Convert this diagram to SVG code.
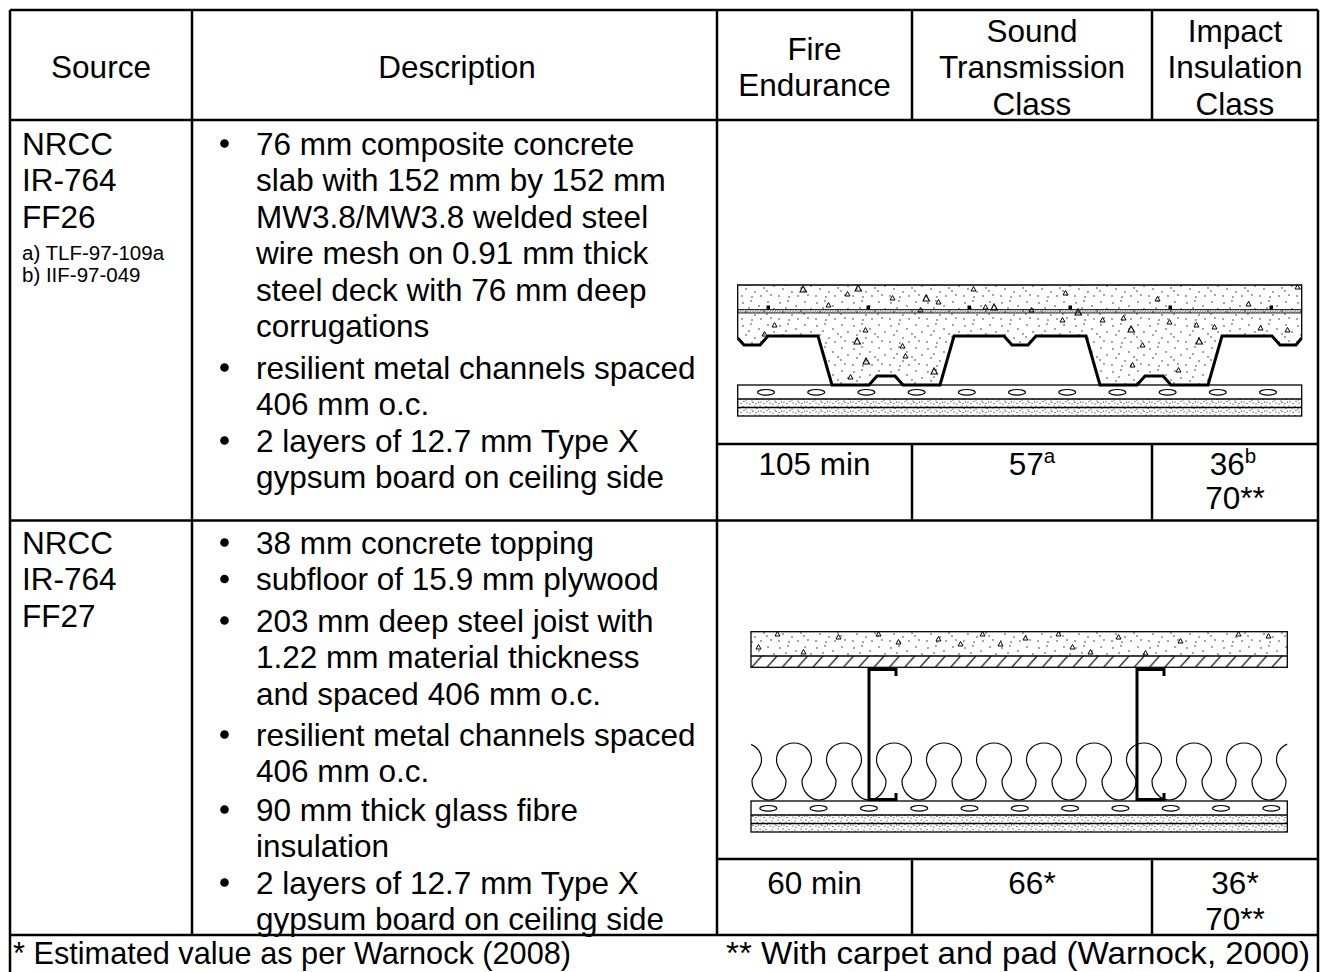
<svg xmlns="http://www.w3.org/2000/svg" xmlns:xlink="http://www.w3.org/1999/xlink" width="1322" height="972" viewBox="0 0 1322 972">
<style>
.t{font-family:"Liberation Sans",Arial,sans-serif;font-size:31.5px;fill:#000}
.s{font-size:20.5px}
.c{text-anchor:middle}
.grid{stroke:#000;stroke-width:2.5;fill:none}
.thin{stroke:#000;stroke-width:1.3;fill:none}
.deck{stroke:#000;stroke-width:3;fill:none;stroke-linejoin:miter}
.bul{fill:#000}
</style>
<defs>
<pattern id="stip" width="37" height="23" patternUnits="userSpaceOnUse">
<g fill="#000"><circle cx="3" cy="4" r="0.65"/><circle cx="11" cy="2" r="0.65"/><circle cx="19" cy="7" r="0.65"/><circle cx="28" cy="3" r="0.65"/><circle cx="34" cy="10" r="0.65"/><circle cx="6" cy="13" r="0.65"/><circle cx="15" cy="16" r="0.65"/><circle cx="24" cy="12" r="0.65"/><circle cx="31" cy="19" r="0.65"/><circle cx="2" cy="20" r="0.65"/><circle cx="12" cy="21" r="0.65"/><circle cx="21" cy="20" r="0.65"/><circle cx="9" cy="9" r="0.65"/><circle cx="27" cy="15" r="0.65"/></g>
</pattern>
<pattern id="gyp" width="23" height="9" patternUnits="userSpaceOnUse">
<g fill="#000"><circle cx="1" cy="1" r="0.55"/><circle cx="4" cy="3" r="0.55"/><circle cx="7" cy="1.5" r="0.55"/><circle cx="10" cy="4" r="0.55"/><circle cx="13" cy="2" r="0.55"/><circle cx="16" cy="5" r="0.55"/><circle cx="19" cy="1" r="0.55"/><circle cx="21" cy="3.5" r="0.55"/><circle cx="2" cy="6" r="0.55"/><circle cx="5" cy="7.5" r="0.55"/><circle cx="8" cy="5.5" r="0.55"/><circle cx="11" cy="7" r="0.55"/><circle cx="14" cy="8" r="0.55"/><circle cx="17" cy="6.5" r="0.55"/><circle cx="20" cy="7.5" r="0.55"/><circle cx="22.5" cy="6" r="0.55"/></g>
</pattern>
<pattern id="mesh" width="2.5" height="3.5" patternUnits="userSpaceOnUse">
<path d="M0,3.5 L2.5,0" stroke="#000" stroke-width="0.7"/>
</pattern>
<pattern id="hatch" x="751" y="656" width="15.3" height="11.3" patternUnits="userSpaceOnUse">
<path d="M0.7,11.3 L10.7,0" stroke="#000" stroke-width="1.1"/>
</pattern>
<path id="tri" d="M0,0 L3,-6 L6.5,0 Z" fill="none" stroke="#000" stroke-width="1.1"/>
<path id="tri2" d="M0,0 L2.5,-4.5 L5,0 Z" fill="none" stroke="#000" stroke-width="1"/>
<clipPath id="clipConc1">
<path d="M737.7,285 H1301.7 V338 L1296,345 L1280,345 L1272,336 L1222,336 L1208,385 L1171,385 L1163,376 L1145,376 L1137,385 L1100,385 L1086,336 L1036,336 L1028,345 L1012,345 L1004,336 L954,336 L940,385 L903,385 L895,376 L877,376 L869,385 L832,385 L818,336 L768,336 L760,345 L744,345 L737.7,338 Z"/>
</clipPath>
<clipPath id="clipIns">
<rect x="751" y="700" width="536.3" height="101"/>
</clipPath>
<ellipse id="ell" rx="8.5" ry="2.8" fill="none" stroke="#000" stroke-width="1.2"/>
</defs>

<rect x="0" y="0" width="1322" height="972" fill="#fff"/>

<g id="grid" class="grid">
<line x1="10" y1="10" x2="1318" y2="10"/>
<line x1="10" y1="120" x2="1318" y2="120"/>
<line x1="717" y1="444" x2="1318" y2="444"/>
<line x1="10" y1="520.5" x2="1318" y2="520.5"/>
<line x1="717" y1="859" x2="1318" y2="859"/>
<line x1="10" y1="935" x2="1318" y2="935"/>
<line x1="10" y1="10" x2="10" y2="972"/>
<line x1="1318" y1="10" x2="1318" y2="972"/>
<line x1="192" y1="10" x2="192" y2="935"/>
<line x1="717" y1="10" x2="717" y2="935"/>
<line x1="912" y1="10" x2="912" y2="120"/>
<line x1="1152" y1="10" x2="1152" y2="120"/>
<line x1="912" y1="444" x2="912" y2="520.5"/>
<line x1="1152" y1="444" x2="1152" y2="520.5"/>
<line x1="912" y1="859" x2="912" y2="935"/>
<line x1="1152" y1="859" x2="1152" y2="935"/>
</g>

<g id="header" class="t">
<text class="t c" x="101" y="78">Source</text>
<text class="t c" x="457" y="78">Description</text>
<text class="t c" x="814.5" y="59.5">Fire</text>
<text class="t c" x="814.5" y="95.5">Endurance</text>
<text class="t c" x="1032" y="41.5">Sound</text>
<text class="t c" x="1032" y="78">Transmission</text>
<text class="t c" x="1032" y="114.5">Class</text>
<text class="t c" x="1235" y="41.5">Impact</text>
<text class="t c" x="1235" y="78">Insulation</text>
<text class="t c" x="1235" y="114.5">Class</text>
</g>

<g id="row1-source">
<text class="t" x="22" y="154.5">NRCC</text>
<text class="t" x="22" y="191">IR-764</text>
<text class="t" x="22" y="227.5">FF26</text>
<text class="t s" x="22" y="260">a) TLF-97-109a</text>
<text class="t s" x="22" y="282">b) IIF-97-049</text>
</g>

<g id="row1-description">
<circle class="bul" cx="224.5" cy="143.5" r="4.3"/>
<text class="t" x="256" y="154.5">76 mm composite concrete</text>
<text class="t" x="256" y="191">slab with 152 mm by 152 mm</text>
<text class="t" x="256" y="227.5">MW3.8/MW3.8 welded steel</text>
<text class="t" x="256" y="264">wire mesh on 0.91 mm thick</text>
<text class="t" x="256" y="300.5">steel deck with 76 mm deep</text>
<text class="t" x="256" y="337">corrugations</text>
<circle class="bul" cx="224.5" cy="367.5" r="4.3"/>
<text class="t" x="256" y="378.5">resilient metal channels spaced</text>
<text class="t" x="256" y="415">406 mm o.c.</text>
<circle class="bul" cx="224.5" cy="440.5" r="4.3"/>
<text class="t" x="256" y="451.5">2 layers of 12.7 mm Type X</text>
<text class="t" x="256" y="488">gypsum board on ceiling side</text>
</g>

<g id="row1-drawing">
<rect x="737.7" y="285" width="564" height="100" fill="url(#stip)" clip-path="url(#clipConc1)"/>
<g clip-path="url(#clipConc1)">
<use xlink:href="#tri" x="800" y="292"/><use xlink:href="#tri" x="855" y="291"/><use xlink:href="#tri2" x="845" y="296"/><use xlink:href="#tri2" x="890" y="300"/><use xlink:href="#tri" x="923" y="301"/><use xlink:href="#tri2" x="936" y="304"/><use xlink:href="#tri2" x="971" y="291"/><use xlink:href="#tri2" x="983" y="309"/><use xlink:href="#tri" x="991" y="310"/><use xlink:href="#tri2" x="826" y="307"/><use xlink:href="#tri2" x="772" y="327"/><use xlink:href="#tri2" x="762" y="336"/><use xlink:href="#tri2" x="863" y="332"/><use xlink:href="#tri" x="854" y="344"/><use xlink:href="#tri2" x="900" y="348"/><use xlink:href="#tri2" x="903" y="358"/><use xlink:href="#tri" x="863" y="364"/><use xlink:href="#tri" x="931" y="374"/><use xlink:href="#tri2" x="848" y="379"/><use xlink:href="#tri2" x="918" y="312"/>
<use xlink:href="#tri2" x="1063" y="295"/><use xlink:href="#tri2" x="1155" y="301"/><use xlink:href="#tri2" x="1246" y="306"/><use xlink:href="#tri2" x="1295" y="289"/><use xlink:href="#tri2" x="1060" y="322"/><use xlink:href="#tri" x="1075" y="315"/><use xlink:href="#tri2" x="1100" y="322"/><use xlink:href="#tri2" x="1121" y="320"/><use xlink:href="#tri" x="1128" y="332"/><use xlink:href="#tri2" x="1167" y="324"/><use xlink:href="#tri2" x="1194" y="327"/><use xlink:href="#tri2" x="1212" y="329"/><use xlink:href="#tri2" x="1258" y="330"/><use xlink:href="#tri2" x="1285" y="332"/><use xlink:href="#tri2" x="1140" y="347"/><use xlink:href="#tri" x="1196" y="344"/><use xlink:href="#tri2" x="1130" y="367"/><use xlink:href="#tri2" x="1176" y="372"/><use xlink:href="#tri2" x="1029" y="312"/>
</g>
<rect x="737.7" y="309.5" width="564" height="3.5" fill="url(#mesh)" stroke="#000" stroke-width="0.8"/>
<g fill="#000">
<rect x="766.5" y="305.5" width="3.5" height="4"/><rect x="866.5" y="305.5" width="3.5" height="4"/><rect x="967.5" y="305.5" width="3.5" height="4"/><rect x="1068.5" y="305.5" width="3.5" height="4"/><rect x="1168.5" y="305.5" width="3.5" height="4"/><rect x="1269.5" y="305.5" width="3.5" height="4"/>
</g>
<path class="thin" d="M737.7,338 V285 H1301.7 V338"/>
<path class="deck" d="M737.7,338 L744,345 L760,345 L768,336 L818,336 L832,385 L869,385 L877,376 L895,376 L903,385 L940,385 L954,336 L1004,336 L1012,345 L1028,345 L1036,336 L1086,336 L1100,385 L1137,385 L1145,376 L1163,376 L1171,385 L1208,385 L1222,336 L1272,336 L1280,345 L1296,345 L1301.7,338"/>
<rect x="737.7" y="399" width="564" height="17" fill="url(#gyp)"/>
<rect class="thin" x="737.7" y="385" width="564" height="31"/>
<line class="thin" x1="737.7" y1="399" x2="1301.7" y2="399"/>
<line class="thin" x1="737.7" y1="407.5" x2="1301.7" y2="407.5"/>
<g>
<use xlink:href="#ell" x="766" y="392.3"/><use xlink:href="#ell" x="816.2" y="392.3"/><use xlink:href="#ell" x="866.4" y="392.3"/><use xlink:href="#ell" x="916.6" y="392.3"/><use xlink:href="#ell" x="966.8" y="392.3"/><use xlink:href="#ell" x="1017" y="392.3"/><use xlink:href="#ell" x="1067.2" y="392.3"/><use xlink:href="#ell" x="1117.4" y="392.3"/><use xlink:href="#ell" x="1167.6" y="392.3"/><use xlink:href="#ell" x="1217.8" y="392.3"/><use xlink:href="#ell" x="1268" y="392.3"/>
</g>
</g>

<g id="row1-values">
<text class="t c" x="814.5" y="474.5">105 min</text>
<text class="t c" x="1032" y="474.5">57<tspan class="s" dy="-12">a</tspan></text>
<text class="t c" x="1233" y="474.5">36<tspan class="s" dy="-12">b</tspan></text>
<text class="t c" x="1235" y="508.5">70**</text>
</g>

<g id="row2-source">
<text class="t" x="22" y="553.5">NRCC</text>
<text class="t" x="22" y="590">IR-764</text>
<text class="t" x="22" y="626.5">FF27</text>
</g>

<g id="row2-description">
<circle class="bul" cx="224.5" cy="542.5" r="4.3"/>
<text class="t" x="256" y="553.5">38 mm concrete topping</text>
<circle class="bul" cx="224.5" cy="579" r="4.3"/>
<text class="t" x="256" y="590">subfloor of 15.9 mm plywood</text>
<circle class="bul" cx="224.5" cy="620.5" r="4.3"/>
<text class="t" x="256" y="631.5">203 mm deep steel joist with</text>
<text class="t" x="256" y="668">1.22 mm material thickness</text>
<text class="t" x="256" y="704.5">and spaced 406 mm o.c.</text>
<circle class="bul" cx="224.5" cy="734.5" r="4.3"/>
<text class="t" x="256" y="745.5">resilient metal channels spaced</text>
<text class="t" x="256" y="782">406 mm o.c.</text>
<circle class="bul" cx="224.5" cy="809.5" r="4.3"/>
<text class="t" x="256" y="820.5">90 mm thick glass fibre</text>
<text class="t" x="256" y="857">insulation</text>
<circle class="bul" cx="224.5" cy="882.5" r="4.3"/>
<text class="t" x="256" y="893.5">2 layers of 12.7 mm Type X</text>
<text class="t" x="256" y="930">gypsum board on ceiling side</text>
</g>

<g id="row2-drawing">
<rect x="751" y="631.7" width="536.3" height="24.3" fill="url(#stip)"/>
<g>
<use xlink:href="#tri2" x="775" y="636"/><use xlink:href="#tri2" x="756" y="649"/><use xlink:href="#tri2" x="801" y="654"/><use xlink:href="#tri2" x="836" y="639"/><use xlink:href="#tri2" x="876" y="636"/><use xlink:href="#tri2" x="896" y="644"/><use xlink:href="#tri2" x="936" y="641"/><use xlink:href="#tri2" x="958" y="646"/><use xlink:href="#tri2" x="980" y="636"/><use xlink:href="#tri2" x="998" y="646"/><use xlink:href="#tri2" x="1023" y="640"/><use xlink:href="#tri2" x="1056" y="636"/><use xlink:href="#tri2" x="1070" y="649"/><use xlink:href="#tri2" x="1088" y="654"/><use xlink:href="#tri2" x="1116" y="639"/><use xlink:href="#tri2" x="1143" y="655"/><use xlink:href="#tri2" x="1178" y="643"/><use xlink:href="#tri2" x="1236" y="636"/><use xlink:href="#tri2" x="1266" y="638"/>
</g>
<rect x="751" y="656" width="536.3" height="11.3" fill="url(#hatch)"/>
<rect class="thin" x="751" y="631.7" width="536.3" height="35.6"/>
<line class="thin" x1="751" y1="656" x2="1287.3" y2="656"/>
<path clip-path="url(#clipIns)" fill="none" stroke="#000" stroke-width="1.2" d="M719,800 c9,0 17,-9 17,-19 c0,-6 -9.5,-11 -9.5,-21 c0,-10 8,-17 17.5,-17 c9.5,0 17.5,7 17.5,17 c0,10 -9.5,15 -9.5,21 c0,10 8,19 17,19 c9,0 17,-9 17,-19 c0,-6 -9.5,-11 -9.5,-21 c0,-10 8,-17 17.5,-17 c9.5,0 17.5,7 17.5,17 c0,10 -9.5,15 -9.5,21 c0,10 8,19 17,19 c9,0 17,-9 17,-19 c0,-6 -9.5,-11 -9.5,-21 c0,-10 8,-17 17.5,-17 c9.5,0 17.5,7 17.5,17 c0,10 -9.5,15 -9.5,21 c0,10 8,19 17,19 c9,0 17,-9 17,-19 c0,-6 -9.5,-11 -9.5,-21 c0,-10 8,-17 17.5,-17 c9.5,0 17.5,7 17.5,17 c0,10 -9.5,15 -9.5,21 c0,10 8,19 17,19 c9,0 17,-9 17,-19 c0,-6 -9.5,-11 -9.5,-21 c0,-10 8,-17 17.5,-17 c9.5,0 17.5,7 17.5,17 c0,10 -9.5,15 -9.5,21 c0,10 8,19 17,19 c9,0 17,-9 17,-19 c0,-6 -9.5,-11 -9.5,-21 c0,-10 8,-17 17.5,-17 c9.5,0 17.5,7 17.5,17 c0,10 -9.5,15 -9.5,21 c0,10 8,19 17,19 c9,0 17,-9 17,-19 c0,-6 -9.5,-11 -9.5,-21 c0,-10 8,-17 17.5,-17 c9.5,0 17.5,7 17.5,17 c0,10 -9.5,15 -9.5,21 c0,10 8,19 17,19 c9,0 17,-9 17,-19 c0,-6 -9.5,-11 -9.5,-21 c0,-10 8,-17 17.5,-17 c9.5,0 17.5,7 17.5,17 c0,10 -9.5,15 -9.5,21 c0,10 8,19 17,19 c9,0 17,-9 17,-19 c0,-6 -9.5,-11 -9.5,-21 c0,-10 8,-17 17.5,-17 c9.5,0 17.5,7 17.5,17 c0,10 -9.5,15 -9.5,21 c0,10 8,19 17,19 c9,0 17,-9 17,-19 c0,-6 -9.5,-11 -9.5,-21 c0,-10 8,-17 17.5,-17 c9.5,0 17.5,7 17.5,17 c0,10 -9.5,15 -9.5,21 c0,10 8,19 17,19 c9,0 17,-9 17,-19 c0,-6 -9.5,-11 -9.5,-21 c0,-10 8,-17 17.5,-17 c9.5,0 17.5,7 17.5,17 c0,10 -9.5,15 -9.5,21 c0,10 8,19 17,19 c9,0 17,-9 17,-19 c0,-6 -9.5,-11 -9.5,-21 c0,-10 8,-17 17.5,-17 c9.5,0 17.5,7 17.5,17 c0,10 -9.5,15 -9.5,21 c0,10 8,19 17,19"/>
<path class="deck" d="M896,676 V669.5 H869 V799.5 H896 V793"/>
<path class="deck" d="M1164,676 V669.5 H1137 V799.5 H1164 V793"/>
<rect x="751" y="815" width="536.3" height="17" fill="url(#gyp)"/>
<rect class="thin" x="751" y="801" width="536.3" height="31"/>
<line class="thin" x1="751" y1="815" x2="1287.3" y2="815"/>
<line class="thin" x1="751" y1="823.5" x2="1287.3" y2="823.5"/>
<g>
<use xlink:href="#ell" x="768.3" y="808.3"/><use xlink:href="#ell" x="818.6" y="808.3"/><use xlink:href="#ell" x="868.9" y="808.3"/><use xlink:href="#ell" x="919.2" y="808.3"/><use xlink:href="#ell" x="969.5" y="808.3"/><use xlink:href="#ell" x="1019.8" y="808.3"/><use xlink:href="#ell" x="1070.1" y="808.3"/><use xlink:href="#ell" x="1120.4" y="808.3"/><use xlink:href="#ell" x="1170.7" y="808.3"/><use xlink:href="#ell" x="1221" y="808.3"/><use xlink:href="#ell" x="1271.3" y="808.3"/>
</g>
</g>

<g id="row2-values">
<text class="t c" x="814.5" y="893.5">60 min</text>
<text class="t c" x="1032" y="893.5">66*</text>
<text class="t c" x="1235" y="893.5">36*</text>
<text class="t c" x="1235" y="930">70**</text>
</g>

<g id="footer">
<text class="t" x="13" y="964" textLength="558" lengthAdjust="spacingAndGlyphs">* Estimated value as per Warnock (2008)</text>
<text class="t" x="726" y="964" textLength="584" lengthAdjust="spacingAndGlyphs">** With carpet and pad (Warnock, 2000)</text>
</g>
</svg>
